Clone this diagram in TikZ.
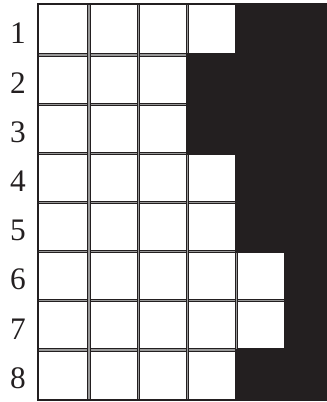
\documentclass[tikz,border=0pt]{standalone}
\usepackage{fontspec}
\setmainfont{Liberation Serif}
\definecolor{ink}{HTML}{231F20}
\begin{document}
\begin{tikzpicture}[x=0.75pt,y=-0.75pt,
    gridline/.style={draw=ink,line width=0.6pt,double=black!40,double distance=1.1pt},
    frame/.style={draw=ink,line width=0.8pt},
    every node/.style={font=\fontsize{23.5}{28}\selectfont,text=ink}]
    \useasboundingbox (0,0) rectangle (327,402);
    \foreach \y in {55,104.3,153.3,202.7,251.7,300.5,350}
        \draw[gridline] (38,\y) -- (336,\y);
    \foreach \x in {89,138.3,187.5,236.5,285.5}
        \draw[gridline] (\x,4) -- (\x,400);
    \draw[frame] (336,4) -- (38,4) -- (38,400) -- (336,400);
    \foreach \ya/\yb/\xa in {4/56.7/235, 53.3/105.8/186, 102.8/154.8/186,
        151.8/204.2/235, 201.2/253.2/235, 250.2/302/284, 299/351.5/284, 348.5/400.4/235}
        \fill[ink] (\xa,\ya) rectangle (336,\yb);
    \foreach \i/\y in {1/33,2/83.2,3/132.3,4/181.5,5/230.7,6/279.6,7/328.8,8/378.5}
        \node (row\i) at (18,\y) {\i};
\end{tikzpicture}
\end{document}
